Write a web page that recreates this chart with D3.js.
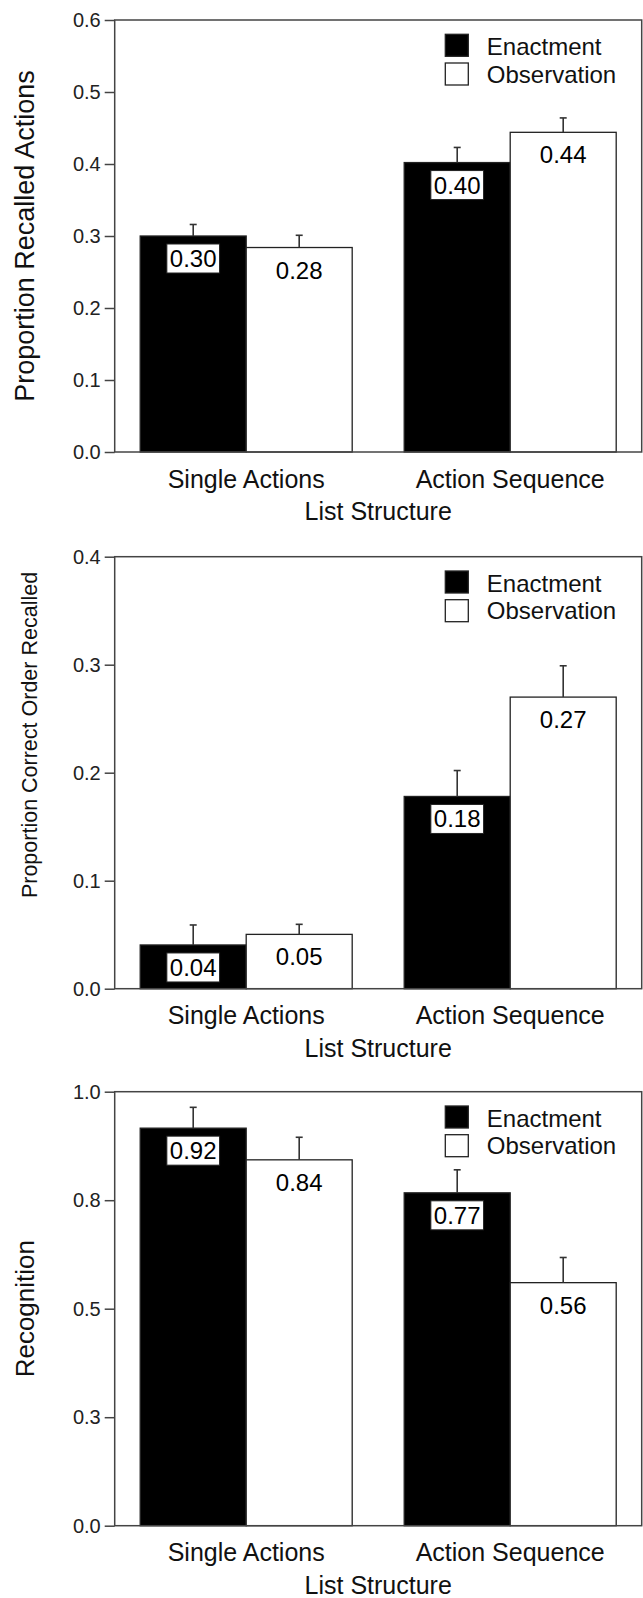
<!DOCTYPE html>
<html lang="en">
<head>
<meta charset="UTF-8">
<title>Enactment vs Observation</title>
<style>
    body { margin: 0; background: #fff; }
    svg { display: block; font-family: "Liberation Sans", Arial, sans-serif; }
    .tick text { fill: #222; }
</style>
</head>
<body>
<div id="chart"></div>
<script src="https://d3js.org/d3.v7.min.js"></script>
<script>
// categories and series
const groups = ["Single Actions", "Action Sequence"];
const conditions = ["Enactment", "Observation"];

// panel 1: proportion recalled actions
const recallEnact = [0.300, 0.402];
const recallObserve = [0.284, 0.444];
const recallEnactErr = [0.016, 0.021];
const recallObserveErr = [0.017, 0.020];
const recallTicks = [0, 0.1, 0.2, 0.3, 0.4, 0.5, 0.6];

// panel 2: proportion correct order recalled
const orderEnact = [0.0405, 0.178];
const orderObserve = [0.0503, 0.270];
const orderEnactErr = [0.0185, 0.024];
const orderObserveErr = [0.0093, 0.029];
const orderTicks = [0, 0.1, 0.2, 0.3, 0.4];

// panel 3: recognition
const recogEnact = [0.916, 0.767];
const recogObserve = [0.843, 0.560];
const recogEnactErr = [0.048, 0.053];
const recogObserveErr = [0.052, 0.058];
const recogTicks = [0, 0.25, 0.5, 0.75, 1.0];

const width = 643, height = 1598;
const left = 114.7, right = 641.7;

const panels = [
    {top: 20, bottom: 452, max: 0.6, ticks: recallTicks, title: "Proportion Recalled Actions",
     titleSize: 27, titleX: 34, titleY: null, enact: recallEnact, observe: recallObserve,
     enactErr: recallEnactErr, observeErr: recallObserveErr},
    {top: 556.7, bottom: 988.7, max: 0.4, ticks: orderTicks, title: "Proportion Correct Order Recalled",
     titleSize: 21.5, titleX: 36.5, titleY: 735, enact: orderEnact, observe: orderObserve,
     enactErr: orderEnactErr, observeErr: orderObserveErr},
    {top: 1091.7, bottom: 1525.7, max: 1.0, ticks: recogTicks, title: "Recognition",
     titleSize: 26, titleX: 34, titleY: null, enact: recogEnact, observe: recogObserve,
     enactErr: recogEnactErr, observeErr: recogObserveErr}
];

const svg = d3.select("#chart").append("svg")
    .attr("width", width)
    .attr("height", height);

const x0 = d3.scaleBand().domain(groups).range([left, right])
    .paddingInner(0.197).paddingOuter(0.0966);
const x1 = d3.scaleBand().domain(conditions).range([0, x0.bandwidth()]);
const fill = d3.scaleOrdinal().domain(conditions).range(["#000", "#fff"]);
const fmt = d3.format(".2f");

panels.forEach(p => {
    const g = svg.append("g");
    const y = d3.scaleLinear().domain([0, p.max]).range([p.bottom, p.top]);

    const rows = [];
    groups.forEach((grp, i) => {
        rows.push({grp, cond: "Enactment", v: p.enact[i], e: p.enactErr[i]});
        rows.push({grp, cond: "Observation", v: p.observe[i], e: p.observeErr[i]});
    });

    // bars
    g.selectAll("rect.bar").data(rows).enter().append("rect")
        .attr("class", "bar")
        .attr("x", d => x0(d.grp) + x1(d.cond))
        .attr("y", d => y(d.v))
        .attr("width", x1.bandwidth())
        .attr("height", d => y(0) - y(d.v))
        .attr("fill", d => fill(d.cond))
        .attr("stroke", "#222")
        .attr("stroke-width", 1.3);

    // error bars
    const eb = g.selectAll("g.err").data(rows).enter().append("g")
        .attr("class", "err")
        .attr("stroke", "#333")
        .attr("stroke-width", 1.6);
    const cx = d => x0(d.grp) + x1(d.cond) + x1.bandwidth() / 2;
    eb.append("line")
        .attr("x1", cx).attr("x2", cx)
        .attr("y1", d => y(d.v)).attr("y2", d => y(d.v + d.e));
    eb.append("line")
        .attr("x1", d => cx(d) - 3.5).attr("x2", d => cx(d) + 3.5)
        .attr("y1", d => y(d.v + d.e)).attr("y2", d => y(d.v + d.e));

    // frame
    g.append("rect")
        .attr("x", left).attr("y", p.top)
        .attr("width", right - left).attr("height", p.bottom - p.top)
        .attr("fill", "none")
        .attr("stroke", "#444")
        .attr("stroke-width", 1.5);

    // y axis
    const ax = g.append("g")
        .attr("transform", `translate(${left},0)`)
        .call(d3.axisLeft(y).tickValues(p.ticks).tickFormat(d3.format(".1f"))
            .tickSizeInner(10).tickSizeOuter(0).tickPadding(4));
    ax.select(".domain").remove();
    ax.selectAll(".tick line").attr("stroke", "#444").attr("stroke-width", 1.5);
    ax.selectAll(".tick text").attr("font-size", 20).attr("font-family", "Liberation Sans, Arial, sans-serif");

    // value labels
    const lab = g.selectAll("g.lab").data(rows).enter().append("g").attr("class", "lab");
    lab.append("text")
        .attr("x", cx)
        .attr("y", d => y(d.v) + 31)
        .attr("text-anchor", "middle")
        .attr("font-size", 24)
        .attr("fill", "#000")
        .text(d => fmt(d.v));
    lab.filter(d => d.cond === "Enactment").each(function() {
        const t = d3.select(this).select("text");
        const b = t.node().getBBox();
        d3.select(this).insert("rect", "text")
            .attr("x", b.x - 3).attr("y", b.y - 1)
            .attr("width", b.width + 6).attr("height", b.height + 2)
            .attr("fill", "#fff")
            .attr("stroke", "#222")
            .attr("stroke-width", 1);
    });

    // category labels
    g.selectAll("text.cat").data(groups).enter().append("text")
        .attr("class", "cat")
        .attr("x", d => x0(d) + x0.bandwidth() / 2)
        .attr("y", p.bottom + 35.7)
        .attr("text-anchor", "middle")
        .attr("font-size", 25)
        .attr("fill", "#111")
        .text(d => d);

    g.append("text")
        .attr("x", (left + right) / 2)
        .attr("y", p.bottom + 68)
        .attr("text-anchor", "middle")
        .attr("font-size", 25)
        .attr("fill", "#111")
        .text("List Structure");

    // y title
    const ty = p.titleY === null ? (p.top + p.bottom) / 2 : p.titleY;
    g.append("text")
        .attr("transform", `translate(${p.titleX},${ty}) rotate(-90)`)
        .attr("text-anchor", "middle")
        .attr("font-size", p.titleSize)
        .attr("fill", "#111")
        .text(p.title);

    // legend
    const lg = g.append("g").attr("transform", `translate(${right - 196.4},${p.top})`);
    conditions.forEach((c, i) => {
        lg.append("rect")
            .attr("x", 0).attr("y", 14.3 + i * 28.7)
            .attr("width", 23).attr("height", 22)
            .attr("fill", fill(c))
            .attr("stroke", "#222")
            .attr("stroke-width", 1.3);
        lg.append("text")
            .attr("x", 41.5).attr("y", 35 + i * 27.5)
            .attr("font-size", 24)
            .attr("fill", "#111")
            .text(c);
    });
});
</script>
</body>
</html>
